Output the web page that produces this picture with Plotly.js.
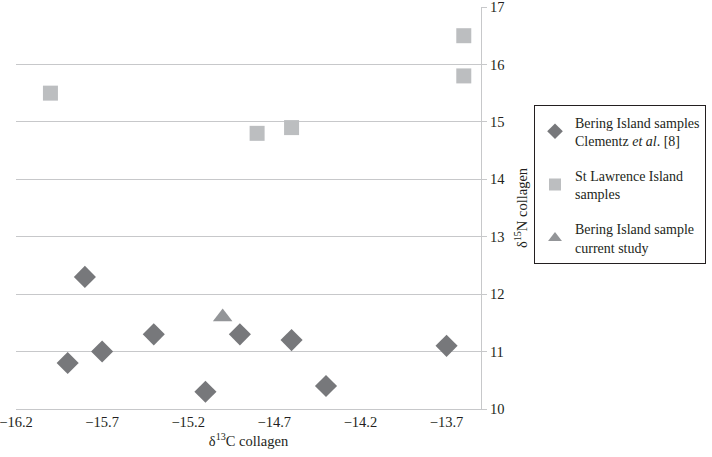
<!DOCTYPE html>
<html>
<head>
<meta charset="utf-8">
<script src="https://cdn.plot.ly/plotly-3.0.1.min.js"></script>
<style>html,body{margin:0;padding:0;background:#fff}#chart{width:712px;height:457px}</style>
</head>
<body>
<div id="chart"></div>
<script>
const beringX = [-15.9, -15.8, -15.7, -15.4, -15.1, -14.9, -14.6, -14.4, -13.7];
const beringY = [10.8, 12.3, 11.0, 11.3, 10.3, 11.3, 11.2, 10.4, 11.1];
const stlawX = [-16.0, -14.8, -14.6, -13.6, -13.6];
const stlawY = [15.5, 14.8, 14.9, 16.5, 15.8];
const currentX = [-15.0];
const currentY = [11.6];
const xTicks = [-16.2, -15.7, -15.2, -14.7, -14.2, -13.7];
const xTickLabels = ['\u221216.2', '\u221215.7', '\u221215.2', '\u221214.7', '\u221214.2', '\u221213.7'];
const yTicks = [10, 11, 12, 13, 14, 15, 16, 17];

const FAM = '"Liberation Serif", "Times New Roman", serif';
const mk = (s) => ({family: FAM, size: s, color: '#231f20'});

const traces = [
  {x: beringX, y: beringY, type: 'scatter', mode: 'markers', legendgroup: 'a',
   name: 'Bering Island samples<br>Clementz <i>et al</i>. [8]',
   marker: {symbol: 'diamond', size: 17, color: '#77787b'}},
  {x: stlawX, y: stlawY, type: 'scatter', mode: 'markers', legendgroup: 'b',
   name: 'St Lawrence Island<br>samples',
   marker: {symbol: 'square', size: 15, color: '#bcbec0'}},
  {x: currentX, y: currentY, type: 'scatter', mode: 'markers', legendgroup: 'c',
   name: 'Bering Island sample<br>current study',
   marker: {symbol: 'triangle-up', size: 17, color: '#939598'}}
];

const layout = {
  width: 712, height: 457,
  margin: {l: 16, r: 231, t: 7, b: 48, autoexpand: false},
  paper_bgcolor: '#fff', plot_bgcolor: '#fff',
  font: mk(14),
  showlegend: true,
  legend: {x: 1.114, y: 0.755, xanchor: 'left', yanchor: 'top',
    bordercolor: '#231f20', borderwidth: 1, bgcolor: '#fff',
    font: mk(14),
    tracegroupgap: 14, itemsizing: 'constant', itemwidth: 30},
  xaxis: {range: [-16.2, -13.5], tickvals: xTicks, ticktext: xTickLabels, automargin: false,
    showgrid: false, zeroline: false, showline: true, linecolor: '#c7c8ca', linewidth: 1,
    ticks: '', tickfont: mk(14.5), ticklabeloverflow: 'allow',
    title: {text: '\u03b4<sup>13</sup>C collagen', font: mk(14.5), standoff: 6}},
  yaxis: {range: [10, 17], tickvals: yTicks, side: 'right', automargin: false,
    showgrid: true, gridcolor: '#c7c8ca', gridwidth: 1, zeroline: false,
    showline: true, linecolor: '#c7c8ca', linewidth: 1, mirror: false,
    ticks: 'outside', ticklen: 5, tickcolor: '#c7c8ca', tickfont: mk(14.5), ticklabeloverflow: 'allow',
    title: {text: '\u03b4<sup>15</sup>N collagen', font: mk(14.5)}}
};

Plotly.newPlot('chart', traces, layout, {displayModeBar: false, staticPlot: true});
</script>
</body>
</html>
